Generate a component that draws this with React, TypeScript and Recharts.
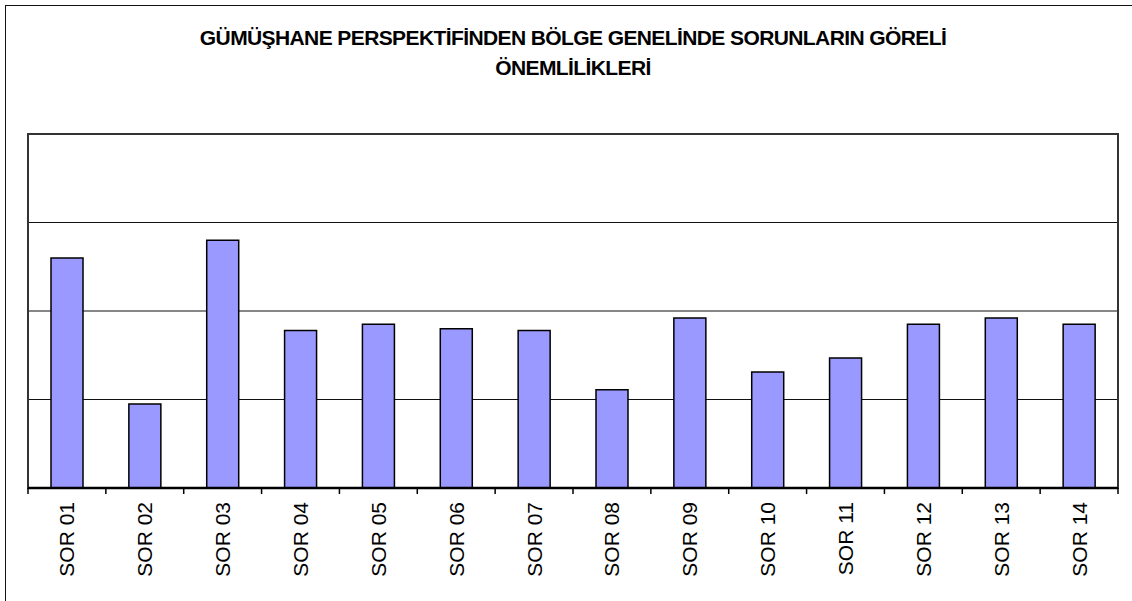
import { Bar, BarChart, CartesianGrid, ReferenceArea, XAxis, YAxis } from 'recharts'

const categories = ['SOR 01', 'SOR 02', 'SOR 03', 'SOR 04', 'SOR 05', 'SOR 06', 'SOR 07', 'SOR 08', 'SOR 09', 'SOR 10', 'SOR 11', 'SOR 12', 'SOR 13', 'SOR 14']
const values = [2.6, 0.95, 2.8, 1.78, 1.85, 1.8, 1.78, 1.11, 1.92, 1.31, 1.47, 1.85, 1.92, 1.85]
const yTicks = [0, 1, 2, 3, 4]
const titleLines = ['GÜMÜŞHANE PERSPEKTİFİNDEN BÖLGE GENELİNDE SORUNLARIN GÖRELİ', 'ÖNEMLİLİKLERİ']

const data = categories.map((name, i) => ({ name, value: values[i] }))

const W = 1132
const H = 601
const X_AXIS_H = 30
const margin = { top: 134, right: 14, bottom: 113 - X_AXIS_H, left: 28 }
const band = (W - margin.left - margin.right) / categories.length

function CategoryTick(props: any) {
  const { x, y, payload, index } = props
  const last = index === categories.length - 1
  return (
    <g>
      <line x1={x - band / 2} x2={x - band / 2} y1={y} y2={y + 6} stroke="#000" strokeWidth={1.5} />
      {last && <line x1={x + band / 2} x2={x + band / 2} y1={y} y2={y + 6} stroke="#000" strokeWidth={1.5} />}
      <text
        x={0}
        y={0}
        transform={`translate(${x}, ${y + 14}) rotate(-90)`}
        textAnchor="end"
        dominantBaseline="central"
        fontSize={21}
        fill="#000"
        fontFamily="'Liberation Sans', Arial, sans-serif"
      >
        {payload.value}
      </text>
    </g>
  )
}

export default function App() {
  return (
    <div
      style={{
        position: 'absolute',
        left: 0,
        top: 0,
        width: W,
        height: H,
        overflow: 'hidden',
        background: '#fff',
        fontFamily: "'Liberation Sans', Arial, sans-serif",
      }}
    >
      <div
        style={{
          position: 'absolute',
          left: 5,
          top: 5,
          width: W + 50,
          height: H + 50,
          borderLeft: '1.5px solid #111',
          borderTop: '1.5px solid #111',
        }}
      />
      {titleLines.map((line, i) => (
        <div
          key={i}
          style={{
            position: 'absolute',
            left: margin.left,
            width: W - margin.left - margin.right,
            top: 26 + i * 30,
            lineHeight: '24px',
            textAlign: 'center',
            fontWeight: 'bold',
            fontSize: 21,
            letterSpacing: -0.6,
            color: '#000',
            whiteSpace: 'nowrap',
          }}
        >
          {line}
        </div>
      ))}
      <div style={{ position: 'absolute', left: 0, top: 0 }}>
        <BarChart width={W} height={H} data={data} margin={margin} barCategoryGap={0}>
          <CartesianGrid horizontal vertical={false} stroke="#111" strokeWidth={1.2} />
          <ReferenceArea y1={0} y2={4} fill="none" stroke="#333" strokeWidth={2} ifOverflow="visible" />
          <YAxis hide domain={[0, 4]} ticks={yTicks} />
          <XAxis
            dataKey="name"
            interval={0}
            height={X_AXIS_H}
            tickLine={false}
            tickSize={0}
            tickMargin={0}
            axisLine={{ stroke: '#000', strokeWidth: 2.5 }}
            tick={<CategoryTick />}
          />
          <Bar dataKey="value" fill="#9999FF" stroke="#000" strokeWidth={1.5} barSize={32} isAnimationActive={false} />
        </BarChart>
      </div>
    </div>
  )
}
